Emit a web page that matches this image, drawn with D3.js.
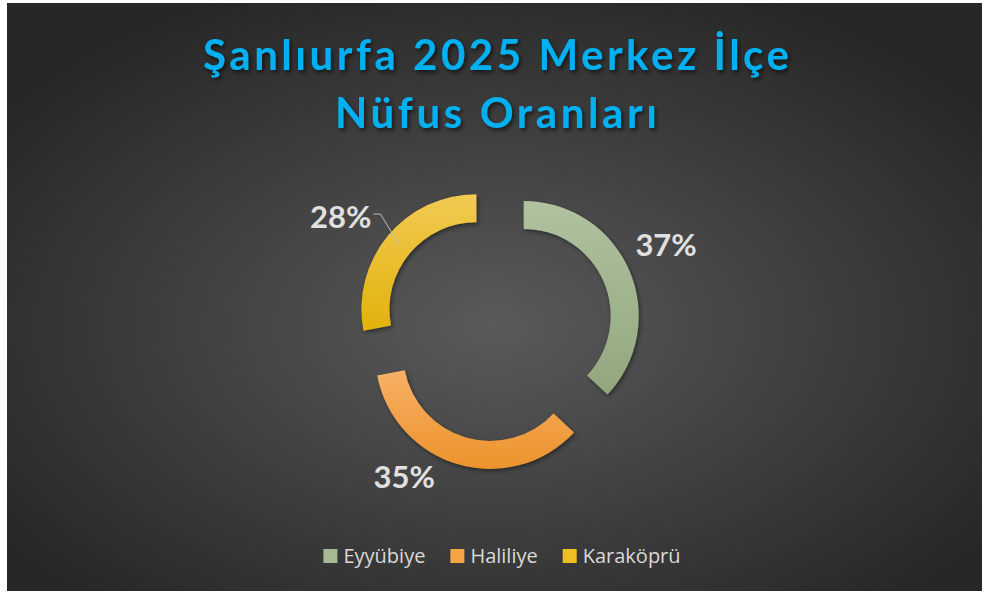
<!DOCTYPE html>
<html>
<head>
<meta charset="utf-8">
<script src="https://cdn.jsdelivr.net/npm/d3@7"></script>
<style>
  html, body { margin: 0; padding: 0; background: #ffffff; }
  svg { display: block; }
</style>
</head>
<body>
<svg id="chart" width="984" height="594"></svg>
<script>
// data
var districts = ["Eyyübiye", "Haliliye", "Karaköprü"];
var shares = [37, 35, 28];
var titleLines = ["Şanlıurfa 2025 Merkez İlçe", "Nüfus Oranları"];

// gradient colours per slice (top, bottom)
var sliceTop = ["#b0c2a0", "#f8b066", "#f1ca52"];
var sliceBottom = ["#92a77e", "#ec932c", "#e3b20c"];
var legendColor = ["#a5b993", "#f6a546", "#edbf22"];

// label placement (angle in degrees from top, distance from centre)
var labelPlace = [[64, 187], [212, 177], [305, 192]];
var titleWidth = [586, 322];

var svg = d3.select("#chart");
var box = {x: 7, y: 3, w: 975, h: 588};

var defs = svg.append("defs");

var bg = defs.append("radialGradient")
  .attr("id", "bg")
  .attr("cx", "50%").attr("cy", "55%").attr("r", "62%");
bg.append("stop").attr("offset", "0%").attr("stop-color", "#5a5a5a");
bg.append("stop").attr("offset", "100%").attr("stop-color", "#272727");

districts.forEach(function(d, i) {
  var g = defs.append("linearGradient")
    .attr("id", "slice" + i)
    .attr("x1", 0).attr("y1", 0).attr("x2", 0).attr("y2", 1);
  g.append("stop").attr("offset", "0%").attr("stop-color", sliceTop[i]);
  g.append("stop").attr("offset", "100%").attr("stop-color", sliceBottom[i]);
});

var shadow = defs.append("filter").attr("id", "shadow")
  .attr("x", "-20%").attr("y", "-20%").attr("width", "140%").attr("height", "140%");
shadow.append("feDropShadow")
  .attr("dx", 1.5).attr("dy", 2).attr("stdDeviation", 2)
  .attr("flood-color", "#000").attr("flood-opacity", 0.45);

var tshadow = defs.append("filter").attr("id", "tshadow")
  .attr("x", "-10%").attr("y", "-30%").attr("width", "120%").attr("height", "160%");
tshadow.append("feDropShadow")
  .attr("dx", 2).attr("dy", 2.5).attr("stdDeviation", 2)
  .attr("flood-color", "#000").attr("flood-opacity", 0.6);

svg.append("rect")
  .attr("x", box.x).attr("y", box.y)
  .attr("width", box.w).attr("height", box.h)
  .attr("fill", "url(#bg)");

// title
var title = svg.append("g").attr("filter", "url(#tshadow)");
title.selectAll("text")
  .data(titleLines)
  .enter().append("text")
  .attr("x", 496)
  .attr("y", function(d, i) { return 70 + i * 58; })
  .attr("text-anchor", "middle")
  .attr("font-family", "Lato, 'Open Sans', sans-serif")
  .attr("font-weight", "bold")
  .attr("font-size", 42)
  .attr("textLength", function(d, i) { return titleWidth[i]; })
  .attr("lengthAdjust", "spacing")
  .attr("fill", "#00b0f0")
  .text(function(d) { return d; });

// donut
var cx = 498, cy = 327;
var outerR = 115, innerR = 87, explode = 28;

var pie = d3.pie().sort(null).value(function(d) { return d; });
var arcs = pie(shares);
var arc = d3.arc().innerRadius(innerR).outerRadius(outerR);

var donut = svg.append("g").attr("transform", "translate(" + cx + "," + cy + ")");

donut.selectAll("path.slice")
  .data(arcs)
  .enter().append("path")
  .attr("class", "slice")
  .attr("transform", function(d) {
    var a = (d.startAngle + d.endAngle) / 2;
    return "translate(" + (Math.sin(a) * explode) + "," + (-Math.cos(a) * explode) + ")";
  })
  .attr("d", arc)
  .attr("fill", function(d, i) { return "url(#slice" + i + ")"; })
  .attr("filter", "url(#shadow)");

// labels
var labels = donut.selectAll("text.lbl")
  .data(arcs)
  .enter().append("text")
  .attr("class", "lbl")
  .attr("x", function(d, i) { return Math.sin(labelPlace[i][0] * Math.PI / 180) * labelPlace[i][1]; })
  .attr("y", function(d, i) { return -Math.cos(labelPlace[i][0] * Math.PI / 180) * labelPlace[i][1]; })
  .attr("dy", "0.36em")
  .attr("text-anchor", "middle")
  .attr("font-family", "Lato, 'Open Sans', sans-serif")
  .attr("font-weight", "bold")
  .attr("font-size", 31)
  .attr("fill", "#e0e0e0")
  .text(function(d) { return d.value + "%"; });

// leader line for the Karaköprü label
var k = arcs[2];
var km = (k.startAngle + k.endAngle) / 2;
var ringMid = (innerR + outerR) / 2 - 2;
var endX = Math.sin(km) * (explode + ringMid);
var endY = -Math.cos(km) * (explode + ringMid);
var kb = labels.filter(function(d, i) { return i === 2; }).node().getBBox();
var lx = kb.x + kb.width + 2;
var ly = kb.y + kb.height / 2 - 2;
donut.append("path")
  .attr("d", d3.line()([[lx, ly], [lx + 7, ly], [endX, endY]]))
  .attr("fill", "none")
  .attr("stroke", "#bfbfbf")
  .attr("stroke-width", 1);

// legend, laid out item after item and centred
var legend = svg.append("g");
var item = legend.selectAll("g")
  .data(districts)
  .enter().append("g");
item.append("rect")
  .attr("y", -7)
  .attr("width", 14).attr("height", 14)
  .attr("fill", function(d, i) { return legendColor[i]; });
item.append("text")
  .attr("x", 20)
  .attr("dy", "0.36em")
  .attr("font-family", "'Open Sans', sans-serif")
  .attr("font-size", 20)
  .attr("fill", "#d9d9d9")
  .text(function(d) { return d; });

var widths = [];
item.select("text").each(function() { widths.push(20 + this.getComputedTextLength()); });
var gap = 25;
var total = d3.sum(widths) + gap * (widths.length - 1);
var start = 502 - total / 2;
var offsets = widths.map(function(w, i) { return start + d3.sum(widths.slice(0, i)) + gap * i; });
item.attr("transform", function(d, i) { return "translate(" + offsets[i] + ",556)"; });
</script>
</body>
</html>
